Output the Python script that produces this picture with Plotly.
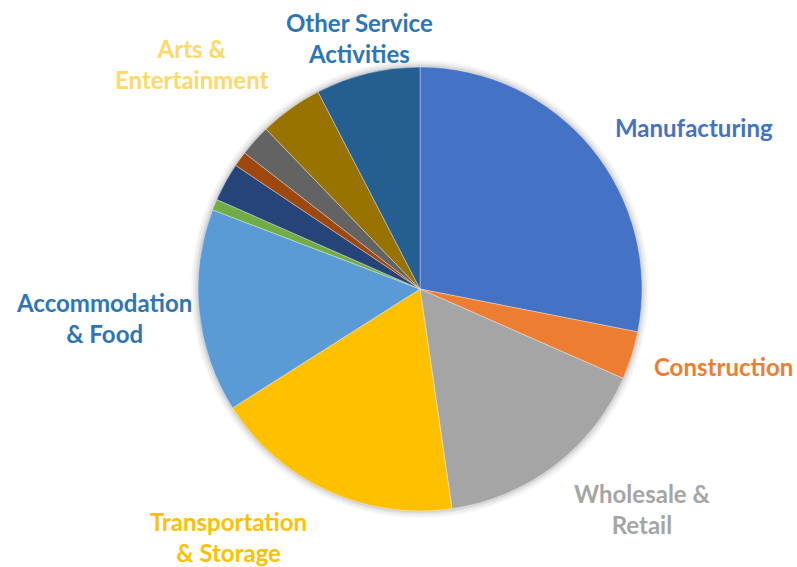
import plotly.graph_objects as go

categories = [
    "Manufacturing", "Construction", "Wholesale & Retail", "Transportation & Storage",
    "Accommodation & Food", "Information & Communication", "Financial & Insurance",
    "Real Estate", "Professional & Scientific", "Arts & Entertainment",
    "Other Service Activities",
]
values = [28.1, 3.5, 16.1, 18.3, 14.8, 0.8, 2.8, 1.1, 2.3, 4.6, 7.6]
slice_colors = ["#4472C4", "#ED7D31", "#A5A5A5", "#FFC000", "#5B9BD5", "#70AD47",
                "#264478", "#9E480E", "#636363", "#997300", "#255E91"]

# Labels shown (text, colour, position in px from top-left)
label_text = {
    "Manufacturing": "Manufacturing",
    "Construction": "Construction",
    "Wholesale & Retail": "Wholesale &<br>Retail",
    "Transportation & Storage": "Transportation<br>& Storage",
    "Accommodation & Food": "Accommodation<br>& Food",
    "Arts & Entertainment": "Arts &<br>Entertainment",
    "Other Service Activities": "Other Service<br>Activities",
}
label_color = {
    "Manufacturing": "#4472C4",
    "Construction": "#ED7D31",
    "Wholesale & Retail": "#A5A5A5",
    "Transportation & Storage": "#FFC000",
    "Accommodation & Food": "#2E75B6",
    "Arts & Entertainment": "#FFD966",
    "Other Service Activities": "#2E75B6",
}
label_pos = {
    "Manufacturing": (694, 127),
    "Construction": (723, 366),
    "Wholesale & Retail": (642, 509),
    "Transportation & Storage": (229, 537),
    "Accommodation & Food": (104, 318),
    "Arts & Entertainment": (192, 64),
    "Other Service Activities": (359, 38),
}
SHADOW = [1]

W, H = 797, 567
cx, cy, r = 420, 289, 222

fig = go.Figure()

# soft shadow layers
for k, a in [(7, 0.03), (5, 0.04), (3, 0.05), (1.5, 0.06)]:
    rr = r + k
    fig.add_trace(go.Pie(
        values=SHADOW, marker=dict(colors=[f"rgba(0,0,0,{a})"], line=dict(width=0)),
        textinfo="none", hoverinfo="skip", showlegend=False, sort=False,
        domain=dict(x=[(cx - rr) / W, (cx + rr) / W],
                    y=[(H - cy - rr) / H, (H - cy + rr) / H]),
    ))

fig.add_trace(go.Pie(
    labels=categories, values=values, sort=False, direction="clockwise", rotation=0,
    marker=dict(colors=slice_colors, line=dict(color="rgba(255,255,255,0.6)", width=0.6)),
    textinfo="none", showlegend=False,
    domain=dict(x=[(cx - r) / W, (cx + r) / W],
                y=[(H - cy - r) / H, (H - cy + r) / H]),
))

for cat in categories:
    if cat in label_text:
        px, py = label_pos[cat]
        fig.add_annotation(
            x=px / W, y=1 - py / H, xref="paper", yref="paper",
            text=label_text[cat], showarrow=False, xanchor="center", yanchor="middle",
            align="center",
            font=dict(family="Lato", size=24, color=label_color[cat], weight="bold"),
        )

fig.update_layout(
    width=W, height=H, margin=dict(l=0, r=0, t=0, b=0),
    paper_bgcolor="white", plot_bgcolor="white",
)
fig.write_html(
    "out.html",
    config={"displayModeBar": False},
    post_script="document.body.style.margin='0';document.body.style.padding='0';"
                "document.body.style.overflow='hidden';",
)
